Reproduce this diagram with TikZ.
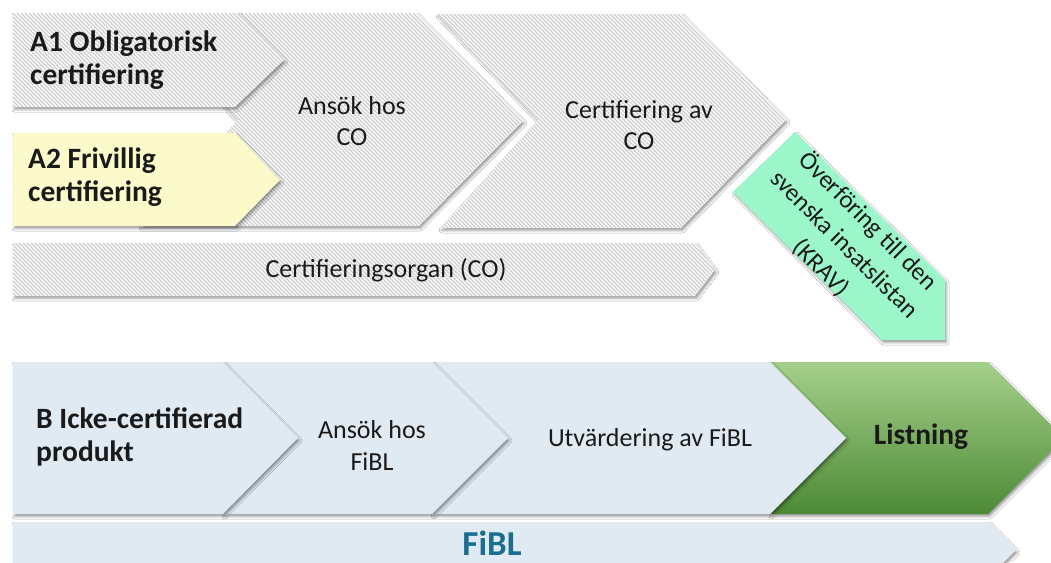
\documentclass[tikz,border=0pt]{standalone}
\usepackage{fontspec}
\setmainfont{Carlito}
\usetikzlibrary{shadows.blur}
\definecolor{yel}{HTML}{FCF9CB}
\definecolor{mint}{HTML}{9BF7CA}
\definecolor{lblue}{HTML}{DFEAF2}
\definecolor{gtop}{HTML}{A5D08B}
\definecolor{gbot}{HTML}{4D8A35}
\definecolor{fibl}{HTML}{1B6F8E}
\definecolor{stripecol}{HTML}{CDCDCD}
\definecolor{ink}{HTML}{1A1A1A}
% striped shape: #1 = path
\newcommand\stripedshape[1]{%
  \path[fill=white,shad] #1;
  \begin{scope}
    \clip #1;
    \foreach \k in {-320,-316,...,800}
      \draw[stripecol, line width=1.3pt] (\k,0) -- ++(330,330);
  \end{scope}}
\begin{document}
\begin{tikzpicture}[x=1pt,y=-1pt,
  shad/.style={blur shadow={shadow xshift=1.5pt,shadow yshift=-2.5pt,shadow blur radius=2.5pt,shadow opacity=40}},
  reg/.style={font=\fontsize{26}{31}\selectfont, align=center, text=ink, inner sep=0pt},
  bld/.style={font=\bfseries\fontsize{29.5}{33}\selectfont, align=left, anchor=west, text=ink, inner sep=0pt},
  lowreg/.style={font=\fontsize{26}{32}\selectfont, align=center, text=ink, inner sep=0pt},
]
\fill[white] (0,0) rectangle (1051,562);
\useasboundingbox (0,0) rectangle (1051,562);

% ---- top row (CO route)
\stripedshape{(437,14) -- (681,14) -- (786,120) -- (681,228) -- (440,228) -- (538,120) -- cycle}
\stripedshape{(140,13) -- (416,13) -- (523,121) -- (419,226) -- (140,226) -- (238,120) -- cycle}
\stripedshape{(13,13) -- (237,13) -- (284,60) -- (235,107) -- (13,107) -- cycle}
\path[fill=yel,shad] (13,133) -- (235,133) -- (280,180) -- (235,226) -- (13,226) -- cycle;
\stripedshape{(13,243) -- (695,243) -- (715,270) -- (695,296) -- (13,296) -- cycle}
\path[fill=mint,shad] (795,132) -- (945,280) -- (945,340) -- (882,340) -- (733,192) -- cycle;

\node[bld] (a1) at (30,60) {A1 Obligatorisk\\certifiering};
\node[bld] (a2) at (28,177) {A2 Frivillig\\certifiering};
\node[reg] (ansokco) at (352,121) {Ansök hos\\CO};
\node[reg] (certco) at (639,125) {Certifiering av\\CO};
\node[reg] (organ) at (386,270) {Certifieringsorgan (CO)};
\node[reg, rotate=-45, font=\fontsize{25}{33}\selectfont] (krav) at (845,244) {Överföring till den\\svenska insatslistan\\(KRAV)};

% ---- bottom row (FiBL route)
\path[shade, top color=gtop, bottom color=gbot, shad] (770,362) -- (988,362) -- (1064,438) -- (988,514) -- (770,514) -- (846,438) -- cycle;
\path[fill=lblue, shad] (432,362) -- (770,362) -- (846,438) -- (770,514) -- (432,514) -- (508,438) -- cycle;
\path[fill=lblue, shad] (223,362) -- (432,362) -- (508,438) -- (432,514) -- (223,514) -- (298,438) -- cycle;
\path[fill=lblue, shad] (13,362) -- (223,362) -- (298,438) -- (223,514) -- (13,514) -- cycle;
\path[fill=lblue, shad] (13,522) -- (988,522) -- (1016,550) -- (988,578) -- (13,578) -- cycle;

\node[bld] (b) at (36,437) {B Icke-certifierad\\produkt};
\node[lowreg] (ansokfibl) at (372,445) {Ansök hos\\FiBL};
\node[lowreg] (utv) at (650,440) {Utvärdering av FiBL};
\node[bld, anchor=center] (list) at (921,437) {Listning};
\node[font=\bfseries\fontsize{35}{38}\selectfont, text=fibl, inner sep=0pt] (fibl) at (492,543) {FiBL};
\end{tikzpicture}
\end{document}
